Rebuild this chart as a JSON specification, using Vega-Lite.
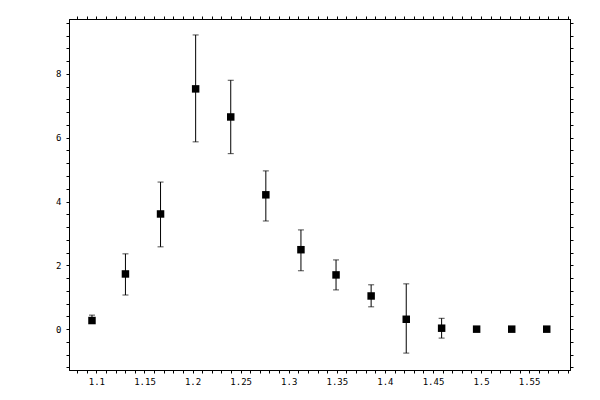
{
  "$schema": "https://vega.github.io/schema/vega-lite/v6.json",
  "width": 501,
  "height": 351,
  "autosize": "none",
  "padding": {"left": 69, "top": 19, "right": 30, "bottom": 30},
  "background": "white",
  "config": {
    "view": {"stroke": "black", "strokeWidth": 1},
    "axis": {
      "grid": false,
      "title": null,
      "domainColor": "black",
      "tickColor": "black",
      "tickSize": 3,
      "labelFont": "DejaVu Sans Mono",
      "labelFontSize": 9,
      "labelColor": "black",
      "labelOverlap": false,
      "labelFlush": false
    }
  },
  "data": {
    "values": [
      {"x": 1.0954, "y": 0.27, "lo": 0.2, "hi": 0.44},
      {"x": 1.1302, "y": 1.73, "lo": 1.07, "hi": 2.36},
      {"x": 1.1667, "y": 3.61, "lo": 2.58, "hi": 4.61},
      {"x": 1.2032, "y": 7.53, "lo": 5.87, "hi": 9.22},
      {"x": 1.2397, "y": 6.65, "lo": 5.5, "hi": 7.8},
      {"x": 1.2762, "y": 4.21, "lo": 3.39, "hi": 4.96},
      {"x": 1.3127, "y": 2.49, "lo": 1.83, "hi": 3.11},
      {"x": 1.3492, "y": 1.7, "lo": 1.23, "hi": 2.17},
      {"x": 1.3857, "y": 1.04, "lo": 0.7, "hi": 1.39},
      {"x": 1.4222, "y": 0.31, "lo": -0.75, "hi": 1.42},
      {"x": 1.459, "y": 0.03, "lo": -0.28, "hi": 0.34},
      {"x": 1.4954, "y": 0, "lo": null, "hi": null},
      {"x": 1.5319, "y": 0, "lo": null, "hi": null},
      {"x": 1.5683, "y": 0, "lo": null, "hi": null}
    ]
  },
  "resolve": {"axis": {"x": "independent", "y": "independent"}},
  "layer": [
    {
      "transform": [{"filter": "isValid(datum.lo)"}],
      "mark": {"type": "rule", "color": "black", "strokeWidth": 1},
      "encoding": {
        "x": {
          "field": "x",
          "type": "quantitative",
          "scale": {"domain": [1.0715, 1.5925], "nice": false, "zero": false},
          "axis": {
            "orient": "bottom",
            "labelPadding": 4,
            "values": [1.08, 1.09, 1.1, 1.11, 1.12, 1.13, 1.14, 1.15, 1.16, 1.17, 1.18, 1.19, 1.2, 1.21, 1.22, 1.23, 1.24, 1.25, 1.26, 1.27, 1.28, 1.29, 1.3, 1.31, 1.32, 1.33, 1.34, 1.35, 1.36, 1.37, 1.38, 1.39, 1.4, 1.41, 1.42, 1.43, 1.44, 1.45, 1.46, 1.47, 1.48, 1.49, 1.5, 1.51, 1.52, 1.53, 1.54, 1.55, 1.56, 1.57, 1.58, 1.59],
            "labelExpr": "abs(datum.value*20-round(datum.value*20))<1e-6 ? toString(datum.value) : ''",
            "encoding": {
              "ticks": {"update": {"y": {"signal": "abs(datum.value*20-round(datum.value*20))<1e-6 ? -4 : 0"}}}
            }
          }
        },
        "y": {
          "field": "lo",
          "type": "quantitative",
          "scale": {"domain": [-1.28, 9.72], "nice": false, "zero": false},
          "axis": {
            "orient": "left",
            "labelPadding": 5,
            "values": [-1.2, -0.8, -0.4, 0, 0.4, 0.8, 1.2, 1.6, 2, 2.4, 2.8, 3.2, 3.6, 4, 4.4, 4.8, 5.2, 5.6, 6, 6.4, 6.8, 7.2, 7.6, 8, 8.4, 8.8, 9.2, 9.6],
            "labelExpr": "abs(datum.value/2-round(datum.value/2))<1e-6 ? toString(datum.value) : ''",
            "encoding": {
              "ticks": {"update": {"x": {"signal": "abs(datum.value/2-round(datum.value/2))<1e-6 ? 4 : 0"}}}
            }
          }
        },
        "y2": {"field": "hi"}
      }
    },
    {
      "transform": [{"filter": "isValid(datum.lo)"}],
      "mark": {"type": "tick", "orient": "horizontal", "color": "black", "size": 6, "thickness": 1},
      "encoding": {
        "x": {"field": "x", "type": "quantitative", "axis": null},
        "y": {"field": "lo", "type": "quantitative", "axis": null}
      }
    },
    {
      "transform": [{"filter": "isValid(datum.hi)"}],
      "mark": {"type": "tick", "orient": "horizontal", "color": "black", "size": 6, "thickness": 1},
      "encoding": {
        "x": {"field": "x", "type": "quantitative", "axis": null},
        "y": {"field": "hi", "type": "quantitative", "axis": null}
      }
    },
    {
      "mark": {"type": "square", "color": "black", "filled": true, "opacity": 1, "size": 56},
      "encoding": {
        "x": {
          "field": "x",
          "type": "quantitative",
          "axis": {
            "orient": "top",
            "labels": false,
            "values": [1.08, 1.09, 1.1, 1.11, 1.12, 1.13, 1.14, 1.15, 1.16, 1.17, 1.18, 1.19, 1.2, 1.21, 1.22, 1.23, 1.24, 1.25, 1.26, 1.27, 1.28, 1.29, 1.3, 1.31, 1.32, 1.33, 1.34, 1.35, 1.36, 1.37, 1.38, 1.39, 1.4, 1.41, 1.42, 1.43, 1.44, 1.45, 1.46, 1.47, 1.48, 1.49, 1.5, 1.51, 1.52, 1.53, 1.54, 1.55, 1.56, 1.57, 1.58, 1.59],
            "encoding": {
              "ticks": {"update": {"y": {"signal": "abs(datum.value*20-round(datum.value*20))<1e-6 ? 4 : 0"}}}
            }
          }
        },
        "y": {
          "field": "y",
          "type": "quantitative",
          "axis": {
            "orient": "right",
            "labels": false,
            "values": [-1.2, -0.8, -0.4, 0, 0.4, 0.8, 1.2, 1.6, 2, 2.4, 2.8, 3.2, 3.6, 4, 4.4, 4.8, 5.2, 5.6, 6, 6.4, 6.8, 7.2, 7.6, 8, 8.4, 8.8, 9.2, 9.6],
            "encoding": {
              "ticks": {"update": {"x": {"signal": "abs(datum.value/2-round(datum.value/2))<1e-6 ? -4 : 0"}}}
            }
          }
        }
      }
    }
  ]
}
